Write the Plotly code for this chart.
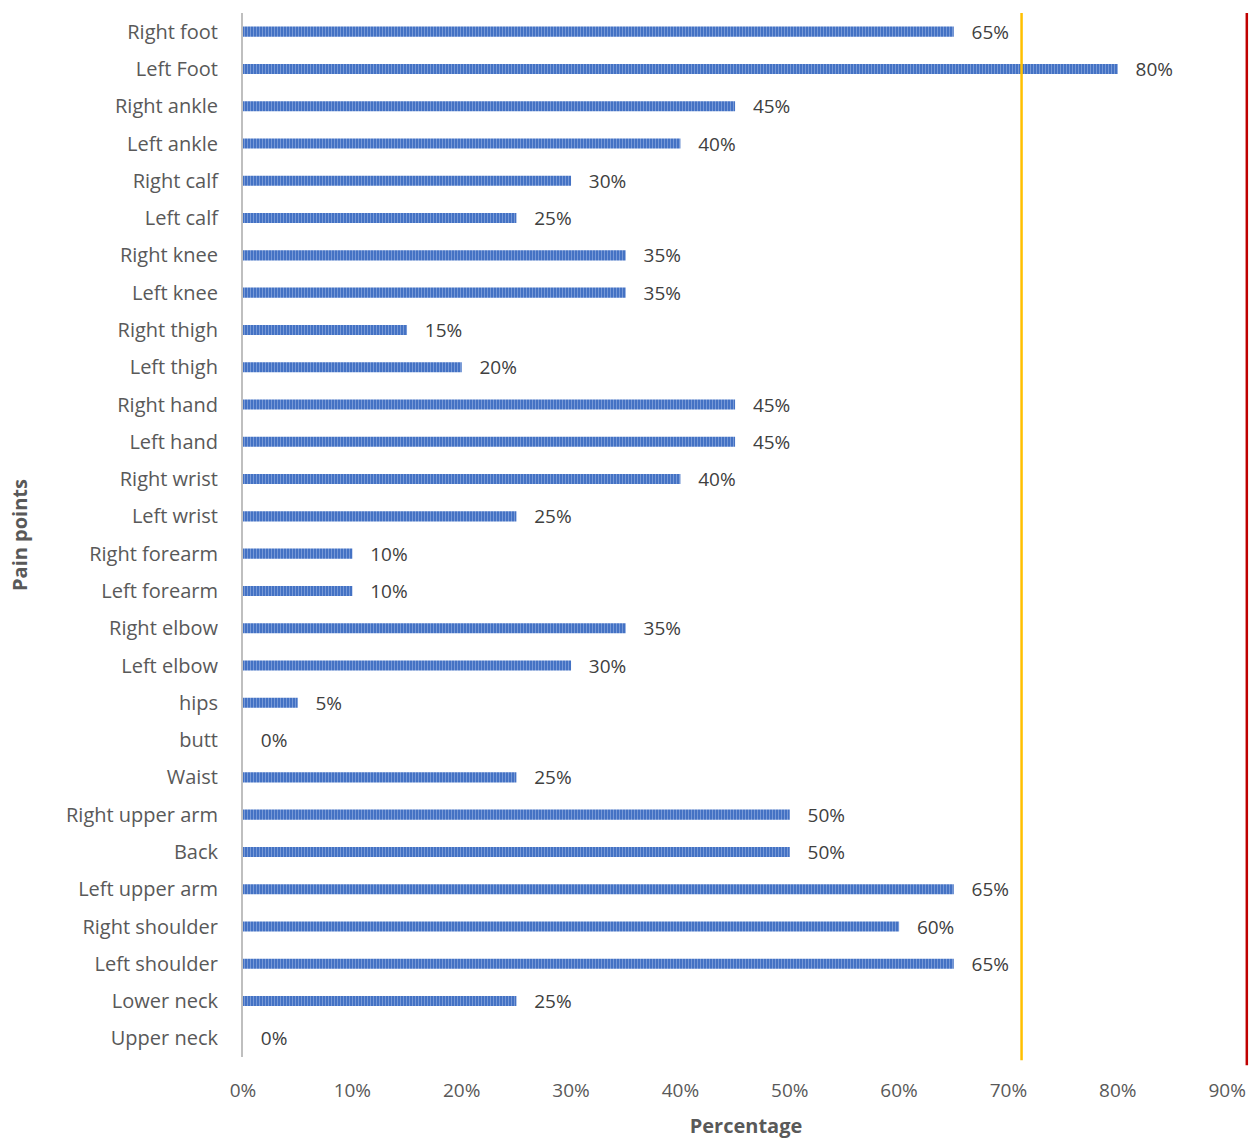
import plotly.graph_objects as go

categories = ["Right foot", "Left Foot", "Right ankle", "Left ankle", "Right calf", "Left calf",
              "Right knee", "Left knee", "Right thigh", "Left thigh", "Right hand", "Left hand",
              "Right wrist", "Left wrist", "Right forearm", "Left forearm", "Right elbow",
              "Left elbow", "hips", "butt", "Waist", "Right upper arm", "Back", "Left upper arm",
              "Right shoulder", "Left shoulder", "Lower neck", "Upper neck"]
values = [0.65, 0.80, 0.45, 0.40, 0.30, 0.25, 0.35, 0.35, 0.15, 0.20, 0.45, 0.45, 0.40, 0.25,
          0.10, 0.10, 0.35, 0.30, 0.05, 0.00, 0.25, 0.50, 0.50, 0.65, 0.60, 0.65, 0.25, 0.00]
threshold_lines = [0.712, 0.918]
threshold_colors = ["#FFC000", "#C00000"]
x_ticks = [0, 0.1, 0.2, 0.3, 0.4, 0.5, 0.6, 0.7, 0.8, 0.9]

FONT = "Open Sans"
NB = "\u00a0"

fig = go.Figure()
fig.add_trace(go.Bar(
    x=values, y=categories, orientation="h",
    width=0.27,
    marker=dict(color="#4472C4", line=dict(width=0),
                pattern=dict(shape="|", fgcolor="#A9C0EA", bgcolor="#4472C4", size=3, solidity=0.35)),
    texttemplate=NB * 3 + "%{x:.0%}", textposition="outside", cliponaxis=False,
    constraintext="none",
    textfont=dict(family=FONT, size=19, color="#404040"),
    showlegend=False,
))

for xv, col in zip(threshold_lines, threshold_colors):
    fig.add_shape(type="line", xref="x", yref="paper", x0=xv, x1=xv,
                  y0=-0.003 if col == "#FFC000" else -0.008, y1=1.0,
                  line=dict(color=col, width=2.5))

fig.update_layout(
    width=1256, height=1140,
    margin=dict(l=243, r=7, t=13, b=81),
    plot_bgcolor="white", paper_bgcolor="white",
    font=dict(family=FONT, color="#595959"),
    bargap=0.73,
    xaxis=dict(range=[0, 0.92], tickvals=x_ticks, tickformat=".0%", showgrid=False, zeroline=False,
               tickfont=dict(size=19, color="#595959"), ticks="", ticklabelstandoff=20,
               title=dict(text="<b>Percentage</b>", font=dict(size=20, color="#595959"), standoff=16)),
    yaxis=dict(categoryorder="array", categoryarray=categories, autorange="reversed",
               showgrid=False, zeroline=False, showline=True, linecolor="#BFBFBF", linewidth=2,
               tickfont=dict(size=20, color="#595959"), ticks="", ticklabelstandoff=19,
               title=dict(text="<b>Pain points</b>", font=dict(size=20, color="#595959"), standoff=33)),
)

fig.write_html("out.html")
